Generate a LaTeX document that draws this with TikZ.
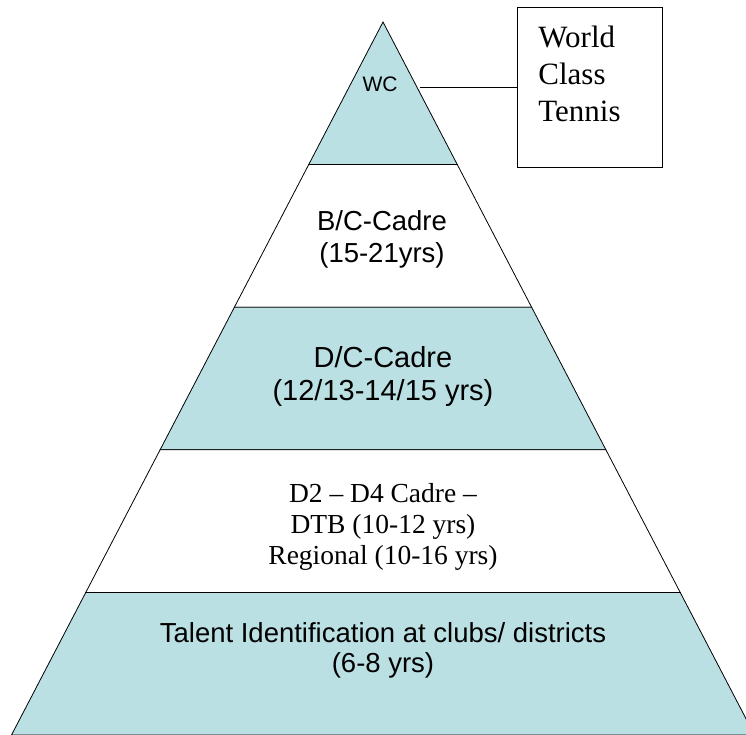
\documentclass[tikz,border=0pt]{standalone}
\usepackage{fontspec}
\setmainfont{Liberation Serif}
\setsansfont{Liberation Sans}
\definecolor{tier}{RGB}{186,224,228}
\begin{document}
\begin{tikzpicture}[x=1pt, y=-1pt, line width=0.8pt,
    tiertext/.style={font=\sffamily, align=center, inner sep=0pt}]
  \clip (0,0) rectangle (746,735);
  \useasboundingbox (0,0) rectangle (746,735);
  % pyramid, five bands from the top
  \foreach \k/\c in {0/tier, 1/white, 2/tier, 3/white, 4/tier} {
    \filldraw[fill=\c] (383-74.3*\k, 22+142.6*\k) -- (383+74.3*\k, 22+142.6*\k)
      -- (457.3+74.3*\k, 164.6+142.6*\k) -- (308.7-74.3*\k, 164.6+142.6*\k) -- cycle;
  }
  \node[tiertext, font=\sffamily\fontsize{21}{25}\selectfont] (wc) at (380,84.5) {WC};
  \node[tiertext, font=\sffamily\fontsize{27.5}{32}\selectfont] (bc) at (382,239) {B/C-Cadre\\(15-21yrs)};
  \node[tiertext, font=\sffamily\fontsize{29}{33}\selectfont] (dc) at (383,376) {D/C-Cadre\\(12/13-14/15 yrs)};
  \node[tiertext, font=\rmfamily\fontsize{27.5}{31}\selectfont] (dtb) at (383,527) {D2 -- D4 Cadre --\\DTB (10-12 yrs)\\Regional (10-16 yrs)};
  \node[tiertext, font=\sffamily\fontsize{27.5}{30}\selectfont] (talent) at (383,650) {Talent Identification at clubs/ districts\\(6-8 yrs)};
  % box on the right
  \node[draw, minimum width=145pt, minimum height=160pt, inner sep=0pt] (box) at (589.5,87) {};
  \node[font=\fontsize{31}{37}\selectfont, align=left, inner sep=0pt, anchor=west] (wct) at (538,74) {World\\Class\\Tennis};
  \coordinate (edge) at (420,87);
  \draw (edge) -- (box.west);
\end{tikzpicture}
\end{document}
